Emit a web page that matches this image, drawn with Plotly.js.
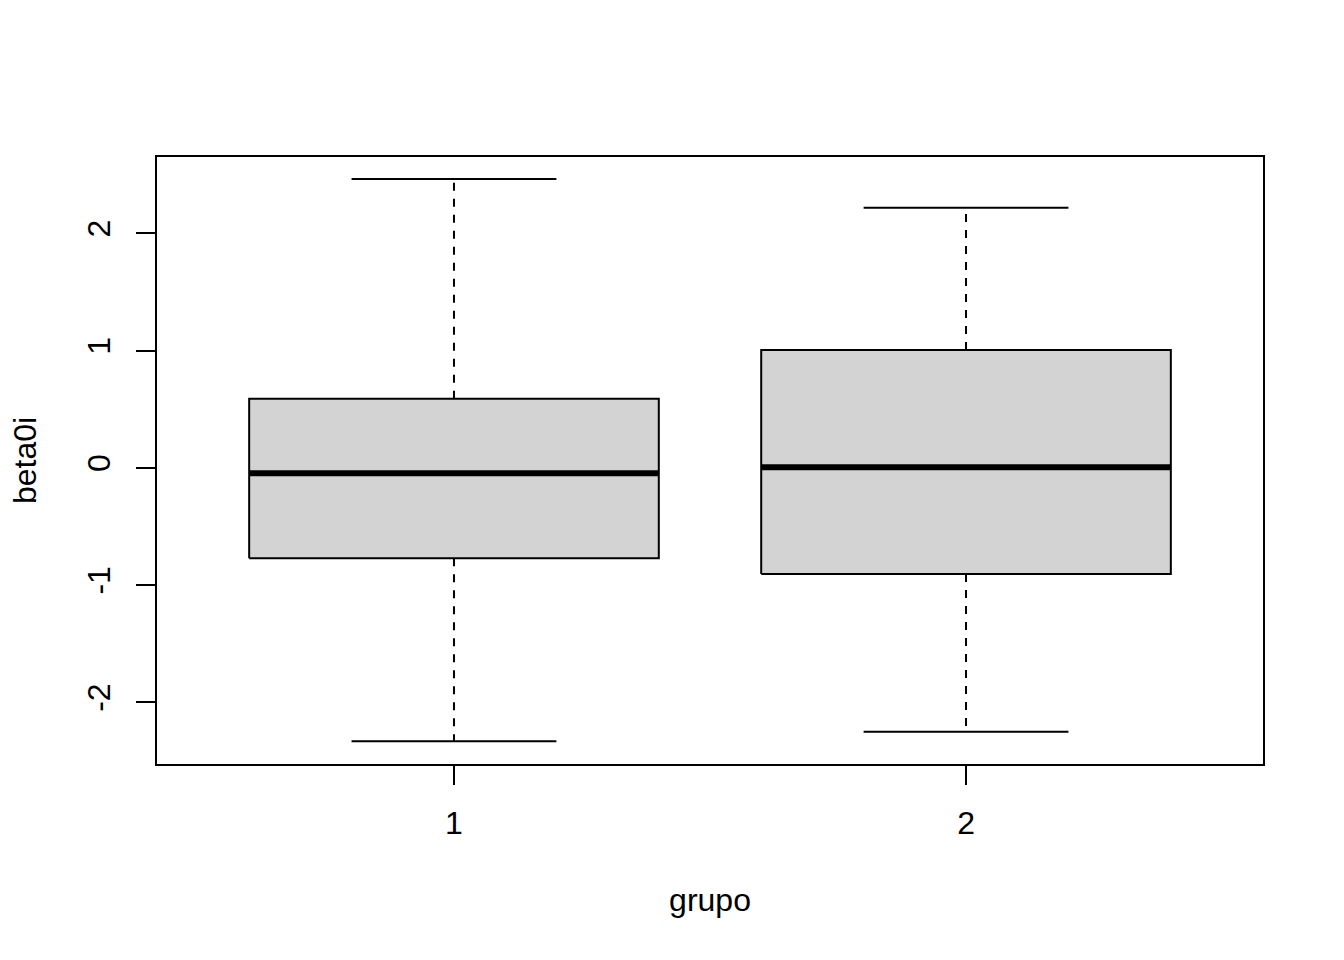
<!DOCTYPE html>
<html>
<head>
<meta charset="utf-8">
<script src="https://cdn.plot.ly/plotly-3.0.1.min.js"></script>
<style>html,body{margin:0;padding:0;background:#fff;}</style>
</head>
<body>
<div id="chart" style="width:1344px;height:960px;"></div>
<script>
// Data
const groups = [1, 2];
const groupLabels = ['1', '2'];
const lowerWhisker = [-2.33, -2.25];
const q1 = [-0.77, -0.905];
const median = [-0.045, 0.005];
const q3 = [0.59, 1.005];
const upperWhisker = [2.465, 2.22];
const yTicks = [-2, -1, 0, 1, 2];

const boxHalf = 0.4, capHalf = 0.2;
const traces = [];
groups.forEach((g, i) => {
  // box
  traces.push({
    type: 'scatter', mode: 'lines', hoverinfo: 'skip', showlegend: false,
    x: [g - boxHalf, g + boxHalf, g + boxHalf, g - boxHalf, g - boxHalf],
    y: [q1[i], q1[i], q3[i], q3[i], q1[i]],
    fill: 'toself', fillcolor: '#D3D3D3',
    line: {color: '#000', width: 2}
  });
  // median
  traces.push({
    type: 'scatter', mode: 'lines', hoverinfo: 'skip', showlegend: false,
    x: [g - boxHalf, g + boxHalf], y: [median[i], median[i]],
    line: {color: '#000', width: 6}
  });
  // whiskers (dashed)
  traces.push({
    type: 'scatter', mode: 'lines', hoverinfo: 'skip', showlegend: false,
    x: [g, g, null, g, g],
    y: [q3[i], upperWhisker[i], null, q1[i], lowerWhisker[i]],
    line: {color: '#000', width: 2, dash: '8px,8px'}
  });
  // caps
  traces.push({
    type: 'scatter', mode: 'lines', hoverinfo: 'skip', showlegend: false,
    x: [g - capHalf, g + capHalf, null, g - capHalf, g + capHalf],
    y: [upperWhisker[i], upperWhisker[i], null, lowerWhisker[i], lowerWhisker[i]],
    line: {color: '#000', width: 2}
  });
});

const font = {family: 'Liberation Sans, Arial, sans-serif', size: 32, color: '#000'};
const layout = {
  width: 1344, height: 960,
  margin: {l: 157, r: 81, t: 157, b: 196, pad: 0},
  paper_bgcolor: '#fff', plot_bgcolor: '#fff',
  font: font,
  showlegend: false,
  xaxis: {
    range: [0.42, 2.58], tickvals: groups, ticktext: groupLabels,
    ticks: 'outside', ticklen: 19, tickwidth: 2, tickcolor: '#000',
    ticklabelstandoff: 11,
    showline: true, mirror: true, linecolor: '#000', linewidth: 2,
    showgrid: false, zeroline: false, tickfont: font,
    title: {text: 'grupo', font: font, standoff: 48}
  },
  yaxis: {
    range: [-2.525, 2.652], tickvals: yTicks, ticktext: yTicks.map(String),
    tickangle: -90,
    ticks: 'outside', ticklen: 19, tickwidth: 2, tickcolor: '#000',
    ticklabelstandoff: 13,
    showline: true, mirror: true, linecolor: '#000', linewidth: 2,
    showgrid: false, zeroline: false, tickfont: font,
    title: {text: 'beta0i', font: font, standoff: 35}
  }
};
Plotly.newPlot('chart', traces, layout, {staticPlot: true, displayModeBar: false});
</script>
</body>
</html>
